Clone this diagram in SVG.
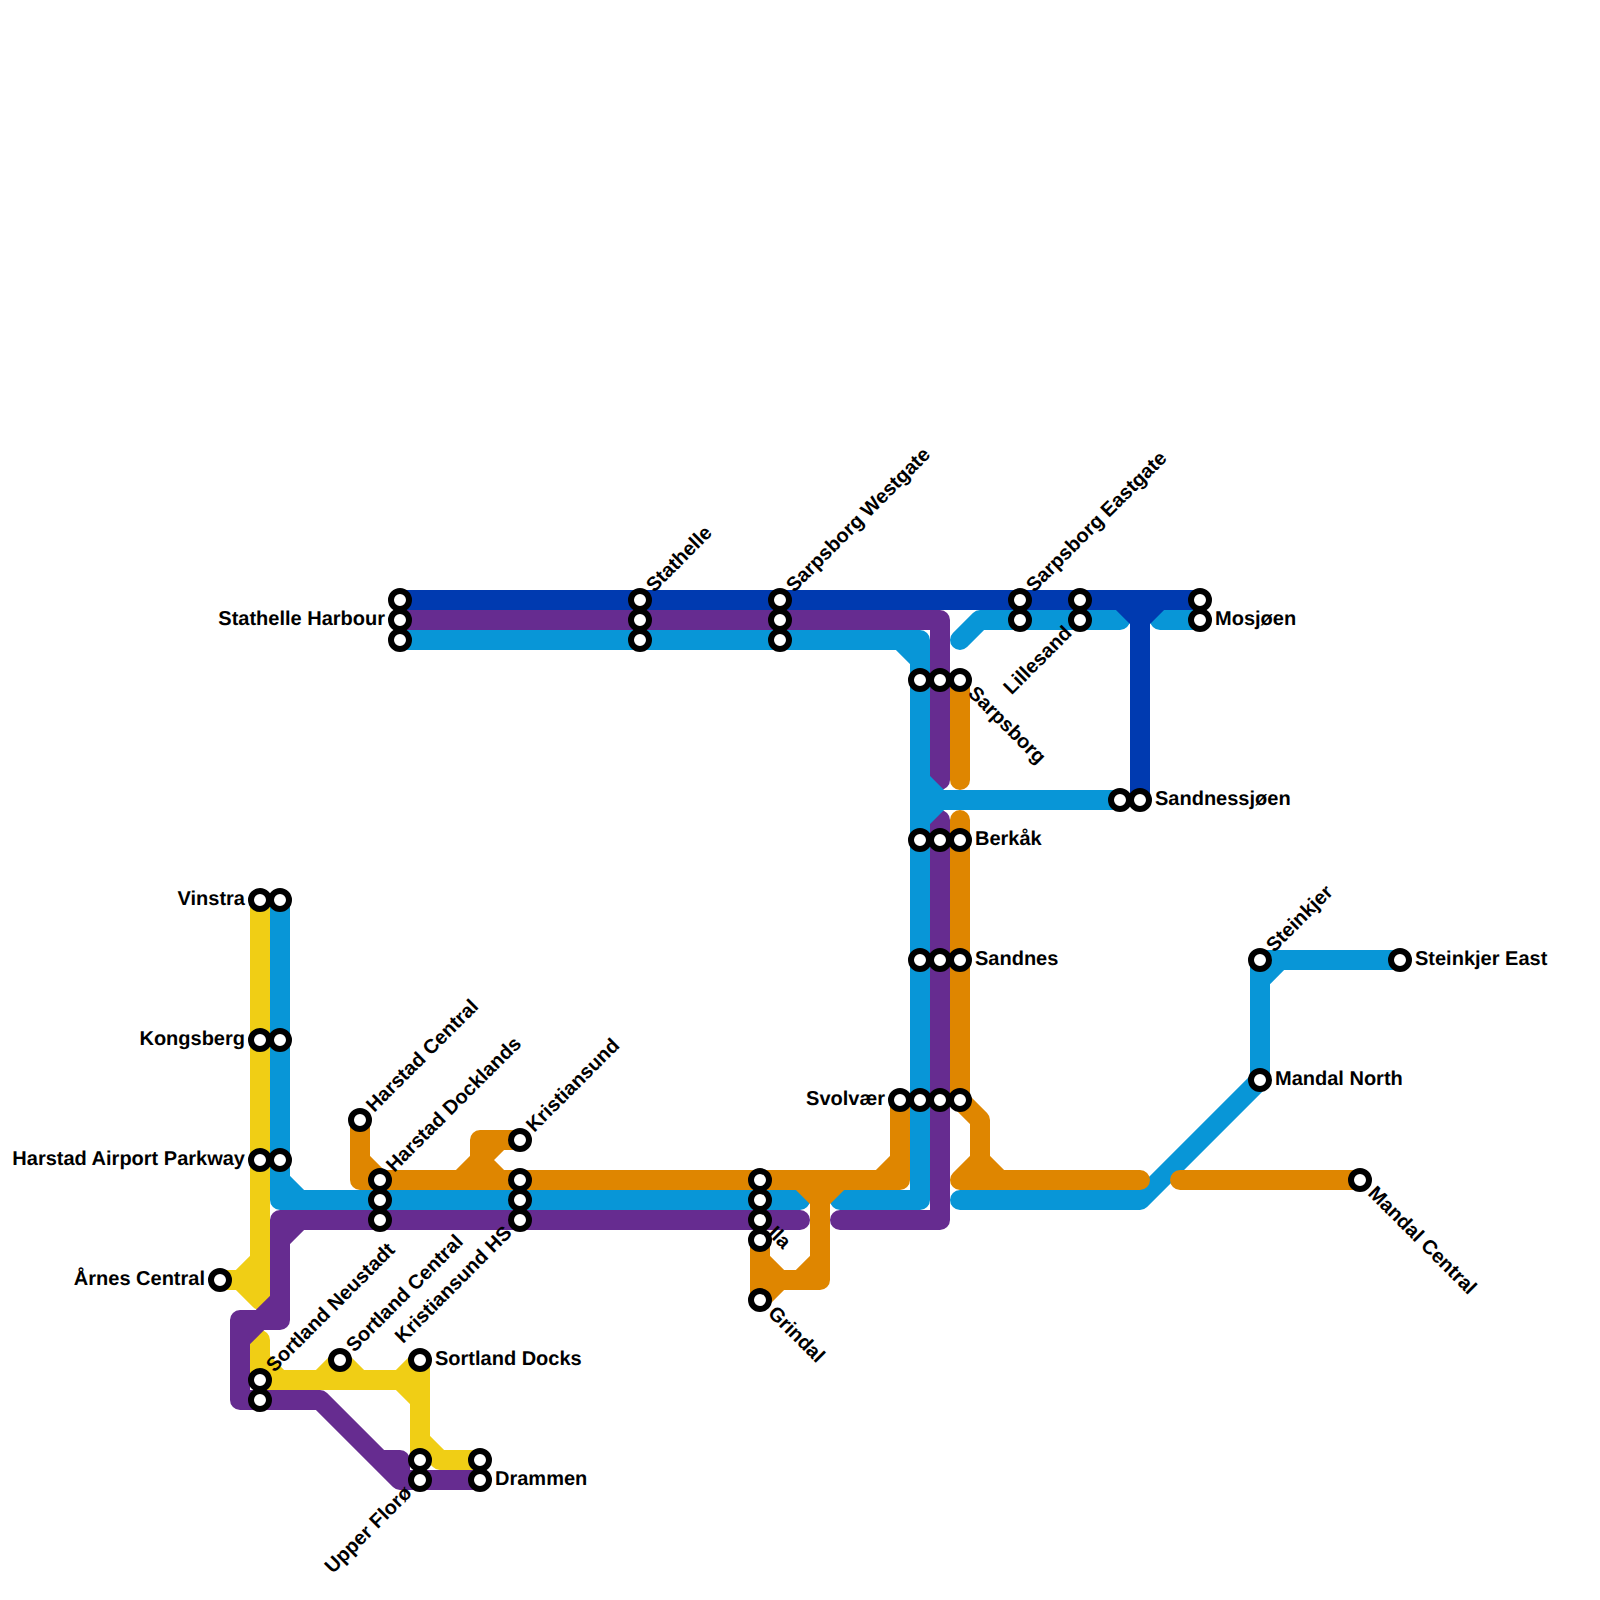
<svg xmlns="http://www.w3.org/2000/svg" width="1600" height="1600" viewBox="0 0 1600 1600">
<style>
.l{fill:none;stroke-width:20;stroke-linecap:round;stroke-linejoin:round}
.y{stroke:#f0ce15}.p{stroke:#662c90}.b{stroke:#0896d7}.o{stroke:#df8600}.d{stroke:#003ab0}
circle{fill:#fff;stroke:#000;stroke-width:6}
text{font-family:"Liberation Sans",Arial,sans-serif;font-weight:bold;font-size:20px;fill:#000;text-rendering:geometricPrecision}
.e{text-anchor:end}
</style>
<rect width="1600" height="1600" fill="#fff"/>
<g id="connectors">
<path class="l y" d="M260 900V1300M260 1260L240 1280H220M240 1280L260 1300M260 1340V1380H420M260 1360L280 1380M340 1360L320 1380M340 1360L360 1380M420 1360L400 1380L420 1400M420 1360V1460M420 1440L440 1460H480"/>
<path class="l p" d="M400 620H940V780M940 820V1220H840M280 1220H800M280 1220V1320H240V1400H320L400 1480H480M280 1240L300 1220M280 1300L240 1340M380 1460H400V1480"/>
<path class="l b" d="M280 900V1200H800M280 1180L300 1200M400 640H920V1200H840M900 640L920 660M920 780L940 800L920 820M920 800H1120M960 640L980 620H1120M1160 620H1200M960 1200H1140L1260 1080V960H1400M1260 980L1280 960"/>
<path class="l o" d="M360 1120V1180H900V1100M360 1160L380 1180M520 1140H480V1160L460 1180M480 1160L500 1180M500 1140L480 1160M900 1160L880 1180M800 1180L820 1200L840 1180M820 1180V1280H760M760 1240V1300L780 1280M760 1260L780 1280M800 1280L820 1260M960 680V780M960 820V1100L980 1120V1160L960 1180H1140M980 1160L1000 1180M1180 1180H1360"/>
<path class="l d" d="M400 600H1200M1140 600V800M1120 600L1140 620L1160 600"/>
</g>
<g id="nodes">
<g id="vinstra"><circle cx="260" cy="900" r="9"/><circle cx="280" cy="900" r="9"/><text class="e" x="245" y="905">Vinstra</text></g>
<g id="kongsberg"><circle cx="260" cy="1040" r="9"/><circle cx="280" cy="1040" r="9"/><text class="e" x="245" y="1045">Kongsberg</text></g>
<g id="harstad-airport-parkway"><circle cx="260" cy="1160" r="9"/><circle cx="280" cy="1160" r="9"/><text class="e" x="245" y="1165">Harstad Airport Parkway</text></g>
<g id="arnes-central"><circle cx="220" cy="1280" r="9"/><text class="e" x="205" y="1285">Årnes Central</text></g>
<g id="sortland-neustadt"><circle cx="260" cy="1380" r="9"/><circle cx="260" cy="1400" r="9"/><text transform="translate(260 1380) rotate(-45)" x="15" y="5">Sortland Neustadt</text></g>
<g id="sortland-central"><circle cx="340" cy="1360" r="9"/><text transform="translate(340 1360) rotate(-45)" x="15" y="5">Sortland Central</text></g>
<g id="sortland-docks"><circle cx="420" cy="1360" r="9"/><text x="435" y="1365">Sortland Docks</text></g>
<g id="drammen"><circle cx="480" cy="1460" r="9"/><circle cx="480" cy="1480" r="9"/><text x="495" y="1485">Drammen</text></g>
<g id="upper-floro"><circle cx="420" cy="1460" r="9"/><circle cx="420" cy="1480" r="9"/><text class="e" transform="translate(420 1480) rotate(-45)" x="-15" y="5">Upper Florø</text></g>
<g id="harstad-central"><circle cx="360" cy="1120" r="9"/><text transform="translate(360 1120) rotate(-45)" x="15" y="5">Harstad Central</text></g>
<g id="harstad-docklands"><circle cx="380" cy="1180" r="9"/><circle cx="380" cy="1200" r="9"/><circle cx="380" cy="1220" r="9"/><text transform="translate(380 1180) rotate(-45)" x="15" y="5">Harstad Docklands</text></g>
<g id="kristiansund"><circle cx="520" cy="1140" r="9"/><text transform="translate(520 1140) rotate(-45)" x="15" y="5">Kristiansund</text></g>
<g id="kristiansund-hs"><circle cx="520" cy="1180" r="9"/><circle cx="520" cy="1200" r="9"/><circle cx="520" cy="1220" r="9"/><text class="e" transform="translate(520 1220) rotate(-45)" x="-15" y="5">Kristiansund HS</text></g>
<g id="stathelle-harbour"><circle cx="400" cy="600" r="9"/><circle cx="400" cy="620" r="9"/><circle cx="400" cy="640" r="9"/><text class="e" x="385" y="625">Stathelle Harbour</text></g>
<g id="stathelle"><circle cx="640" cy="600" r="9"/><circle cx="640" cy="620" r="9"/><circle cx="640" cy="640" r="9"/><text transform="translate(640 600) rotate(-45)" x="15" y="5">Stathelle</text></g>
<g id="sarpsborg-westgate"><circle cx="780" cy="600" r="9"/><circle cx="780" cy="620" r="9"/><circle cx="780" cy="640" r="9"/><text transform="translate(780 600) rotate(-45)" x="15" y="5">Sarpsborg Westgate</text></g>
<g id="sarpsborg-eastgate"><circle cx="1020" cy="600" r="9"/><circle cx="1020" cy="620" r="9"/><text transform="translate(1020 600) rotate(-45)" x="15" y="5">Sarpsborg Eastgate</text></g>
<g id="lillesand"><circle cx="1080" cy="600" r="9"/><circle cx="1080" cy="620" r="9"/><text class="e" transform="translate(1080 620) rotate(-45)" x="-15" y="5">Lillesand</text></g>
<g id="mosjoen"><circle cx="1200" cy="600" r="9"/><circle cx="1200" cy="620" r="9"/><text x="1215" y="625">Mosjøen</text></g>
<g id="sarpsborg"><circle cx="920" cy="680" r="9"/><circle cx="940" cy="680" r="9"/><circle cx="960" cy="680" r="9"/><text transform="translate(960 680) rotate(45)" x="15" y="5">Sarpsborg</text></g>
<g id="sandnessjoen"><circle cx="1120" cy="800" r="9"/><circle cx="1140" cy="800" r="9"/><text x="1155" y="805">Sandnessjøen</text></g>
<g id="berkak"><circle cx="920" cy="840" r="9"/><circle cx="940" cy="840" r="9"/><circle cx="960" cy="840" r="9"/><text x="975" y="845">Berkåk</text></g>
<g id="sandnes"><circle cx="920" cy="960" r="9"/><circle cx="940" cy="960" r="9"/><circle cx="960" cy="960" r="9"/><text x="975" y="965">Sandnes</text></g>
<g id="svolvaer"><circle cx="900" cy="1100" r="9"/><circle cx="920" cy="1100" r="9"/><circle cx="940" cy="1100" r="9"/><circle cx="960" cy="1100" r="9"/><text class="e" x="885" y="1105">Svolvær</text></g>
<g id="ila"><text transform="translate(760 1220) rotate(45)" x="15" y="5">Ila</text><circle cx="760" cy="1180" r="9"/><circle cx="760" cy="1200" r="9"/><circle cx="760" cy="1220" r="9"/><circle cx="760" cy="1240" r="9"/></g>
<g id="grindal"><circle cx="760" cy="1300" r="9"/><text transform="translate(760 1300) rotate(45)" x="15" y="5">Grindal</text></g>
<g id="mandal-central"><circle cx="1360" cy="1180" r="9"/><text transform="translate(1360 1180) rotate(45)" x="15" y="5">Mandal Central</text></g>
<g id="mandal-north"><circle cx="1260" cy="1080" r="9"/><text x="1275" y="1085">Mandal North</text></g>
<g id="steinkjer"><circle cx="1260" cy="960" r="9"/><text transform="translate(1260 960) rotate(-45)" x="15" y="5">Steinkjer</text></g>
<g id="steinkjer-east"><circle cx="1400" cy="960" r="9"/><text x="1415" y="965">Steinkjer East</text></g>
</g>
</svg>
